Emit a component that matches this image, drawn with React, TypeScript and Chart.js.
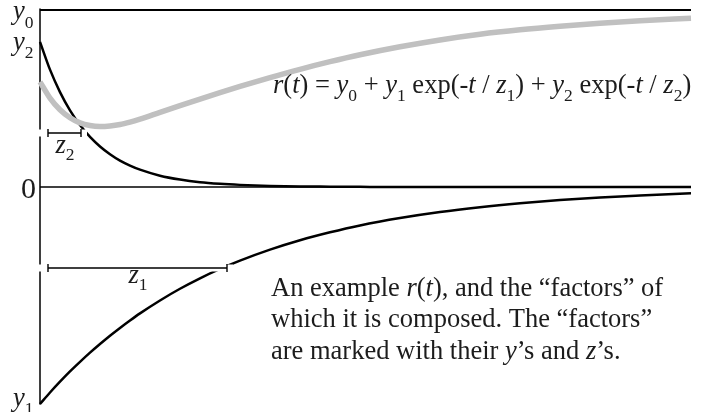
import React, { useEffect, useRef } from "react";
import { Chart, registerables } from "chart.js";

Chart.register(...registerables);

// Time samples (t) and the sampled curves
const T = [0, 10, 20, 30, 40, 50, 60, 70, 80, 90, 100, 120, 140, 160, 180, 200, 230, 260, 290, 320, 360, 400, 440, 480, 520, 560, 600, 651];
const FACTOR_Y1 = [-1.226, -1.161, -1.1, -1.042, -0.988, -0.936, -0.887, -0.84, -0.796, -0.754, -0.714, -0.641, -0.575, -0.516, -0.463, -0.416, -0.354, -0.301, -0.256, -0.217, -0.175, -0.141, -0.114, -0.092, -0.074, -0.059, -0.048, -0.036];
const FACTOR_Y2 = [0.82, 0.663, 0.536, 0.433, 0.35, 0.283, 0.229, 0.185, 0.149, 0.121, 0.098, 0.064, 0.042, 0.027, 0.018, 0.012, 0.006, 0.003, 0.002, 0.001, 0, 0, 0, 0, 0, 0, 0, 0];
const R_CURVE = [0.594, 0.502, 0.436, 0.391, 0.362, 0.347, 0.342, 0.345, 0.353, 0.367, 0.384, 0.422, 0.46, 0.497, 0.533, 0.568, 0.618, 0.665, 0.708, 0.747, 0.792, 0.831, 0.863, 0.888, 0.908, 0.925, 0.939, 0.953];
const Y0 = 1;

// Dimension markers for z2 and z1
const MARKER_START = [8, 8];
const MARKER_END = [41, 187];
const MARKER_LEVEL = [0.305, -0.458];
const MARKER_SUB = ["2", "1"];

// Visible axis range
const T_MIN = -40;
const T_MAX = 664;
const V_MIN = -1.2712;
const V_MAX = 1.0565;

type Part = [string, "n" | "i" | "s"];

const FORMULA: Part[] = [
  ["r", "i"], ["(", "n"], ["t", "i"], [") = ", "n"],
  ["y", "i"], ["0", "s"], [" + ", "n"],
  ["y", "i"], ["1", "s"], [" exp(-", "n"], ["t", "i"], [" / ", "n"], ["z", "i"], ["1", "s"], [") + ", "n"],
  ["y", "i"], ["2", "s"], [" exp(-", "n"], ["t", "i"], [" / ", "n"], ["z", "i"], ["2", "s"], [")", "n"],
];

const CAPTION: Part[][] = [
  [["An example ", "n"], ["r", "i"], ["(", "n"], ["t", "i"], ["), and the \u201cfactors\u201d of", "n"]],
  [["which it is composed. The \u201cfactors\u201d", "n"]],
  [["are marked with their ", "n"], ["y", "i"], ["\u2019s and ", "n"], ["z", "i"], ["\u2019s.", "n"]],
];

const FONT = '"Liberation Serif", "Times New Roman", serif';
const INK = "#1c1c1c";
const SIZE = 26.5;
const SUB = 17.5;

function drawRich(
  ctx: CanvasRenderingContext2D,
  x: number,
  y: number,
  parts: Part[],
  size: number,
  subSize: number,
  subDrop: number
) {
  let cx = x;
  for (const [text, style] of parts) {
    const s = style === "s" ? subSize : size;
    ctx.font = `${style === "i" ? "italic " : ""}${s}px ${FONT}`;
    ctx.fillText(text, cx, style === "s" ? y + subDrop : y);
    cx += ctx.measureText(text).width;
  }
  return cx;
}

const LABEL_DROP = [20, 15];

const annotations = {
  id: "annotations",
  afterDatasetsDraw(chart: any) {
    const ctx: CanvasRenderingContext2D = chart.ctx;
    const xs = chart.scales.x;
    const ys = chart.scales.y;
    const axisX = xs.getPixelForValue(0);
    ctx.save();

    // dimension markers with a white halo that breaks the lines beneath
    MARKER_START.forEach((start, i) => {
      const py = ys.getPixelForValue(MARKER_LEVEL[i]);
      const x1 = xs.getPixelForValue(start);
      const x2 = xs.getPixelForValue(MARKER_END[i]);
      ctx.strokeStyle = "#ffffff";
      ctx.lineWidth = 7;
      ctx.beginPath();
      ctx.moveTo(axisX - 4, py);
      ctx.lineTo(x2 + 6, py);
      ctx.stroke();
      ctx.strokeStyle = "#000";
      ctx.lineWidth = 1.4;
      ctx.beginPath();
      ctx.moveTo(x1, py);
      ctx.lineTo(x2, py);
      ctx.moveTo(x1, py - 4);
      ctx.lineTo(x1, py + 4);
      ctx.moveTo(x2, py - 4);
      ctx.lineTo(x2, py + 4);
      ctx.stroke();
      ctx.fillStyle = INK;
      ctx.textBaseline = "alphabetic";
      const lx = (x1 + x2) / 2 - 9;
      drawRich(ctx, lx, py + LABEL_DROP[i], [["z", "i"], [MARKER_SUB[i], "s"]], SIZE, SUB, 7);
    });

    ctx.fillStyle = INK;
    ctx.textBaseline = "alphabetic";
    // value labels on the left of the axis
    const p0 = ys.getPixelForValue(Y0);
    drawRich(ctx, 13, p0 + 9, [["y", "i"], ["0", "s"]], SIZE, SUB, 9);
    const p2 = ys.getPixelForValue(FACTOR_Y2[0]);
    drawRich(ctx, 13, p2 + 8, [["y", "i"], ["2", "s"]], SIZE, SUB, 8);
    const p1 = ys.getPixelForValue(FACTOR_Y1[0]);
    drawRich(ctx, 13, p1 + 2, [["y", "i"], ["1", "s"]], SIZE, SUB, 8);
    const pz = ys.getPixelForValue(0);
    ctx.font = `30px ${FONT}`;
    ctx.fillText("0", 21, pz + 11);

    // formula and caption
    drawRich(ctx, 273, 93, FORMULA, SIZE, SUB, 8);
    CAPTION.forEach((line, i) => {
      drawRich(ctx, 271, 296 + i * 31.3, line, SIZE, SUB, 8);
    });
    ctx.restore();
  },
};

export default function App() {
  const ref = useRef<HTMLCanvasElement | null>(null);

  useEffect(() => {
    if (!ref.current) return;
    const pts = (ys: number[]) => T.map((t, i) => ({ x: t, y: ys[i] }));
    const last = T[T.length - 1];
    const base = {
      showLine: true,
      pointRadius: 0,
      fill: false,
      borderCapStyle: "butt" as const,
      borderJoinStyle: "round" as const,
    };
    const chart = new Chart(ref.current, {
      type: "scatter",
      data: {
        datasets: [
          { ...base, label: "r(t)", data: pts(R_CURVE), borderColor: "#c0c0c0", borderWidth: 5.5, cubicInterpolationMode: "monotone", order: 0 },
          { ...base, label: "y2 factor", data: pts(FACTOR_Y2), borderColor: "#000", borderWidth: 2.5, cubicInterpolationMode: "monotone", order: 1 },
          { ...base, label: "y1 factor", data: pts(FACTOR_Y1), borderColor: "#000", borderWidth: 2.5, cubicInterpolationMode: "monotone", order: 1 },
          { ...base, label: "y0", data: [{ x: 0, y: Y0 }, { x: last, y: Y0 }], borderColor: "#000", borderWidth: 2.2, order: 2 },
          { ...base, label: "zero", data: [{ x: 0, y: 0 }, { x: last, y: 0 }], borderColor: "#000", borderWidth: 1.4, order: 2 },
          { ...base, label: "axis", data: [{ x: 0, y: Y0 + 0.006 }, { x: 0, y: FACTOR_Y1[0] }], borderColor: "#000", borderWidth: 1.5, order: 2 },
        ],
      },
      options: {
        animation: false,
        responsive: false,
        events: [],
        layout: { padding: 0 },
        plugins: { legend: { display: false }, tooltip: { enabled: false } },
        scales: {
          x: { type: "linear", display: false, min: T_MIN, max: T_MAX },
          y: { type: "linear", display: false, min: V_MIN, max: V_MAX },
        },
      },
      plugins: [annotations],
    });
    return () => chart.destroy();
  }, []);

  return (
    <div style={{ position: "fixed", left: 0, top: 0, width: 704, height: 412, background: "#fff" }}>
      <canvas ref={ref} width={704} height={412} style={{ display: "block" }} />
    </div>
  );
}
